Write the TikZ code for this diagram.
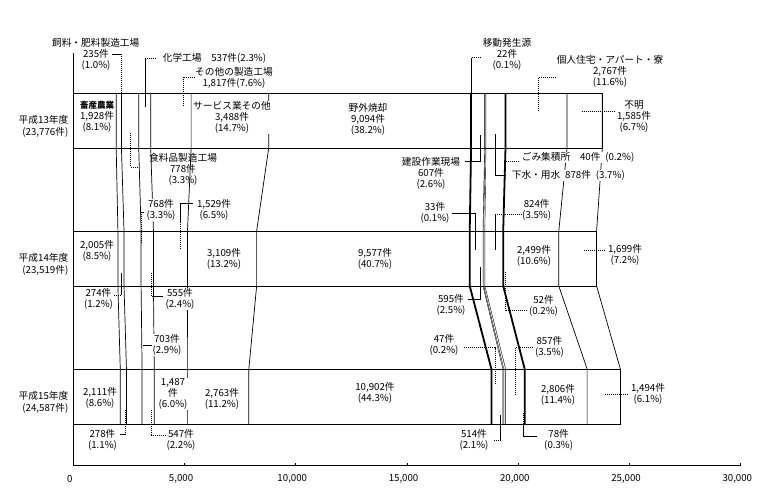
\documentclass[tikz,border=0pt]{standalone}
\usepackage{fontspec}
\setmainfont{Noto Sans CJK JP}
\usepackage{tikz}
\usetikzlibrary{positioning}
\tikzset{
    lbl/.style={font=\fontsize{9.7}{11}\selectfont, align=center, inner sep=0.6pt, fill=white},
    lblclear/.style={lbl, fill=none},
    yearlbl/.style={font=\fontsize{9.7}{12}\selectfont, align=right, anchor=east, inner sep=0pt}
}

\begin{document}
\begin{tikzpicture}[
        x=1pt, y=-1pt,
        % --- LINES ---
        barbox/.style={draw=black, line width=0.9pt},
        segline/.style={draw=black, line width=0.7pt},
        segfine/.style={draw=black, line width=0.4pt},
        segbold/.style={draw=black, line width=1.8pt},
        lead/.style={draw=black, line width=0.7pt},
        leaddot/.style={draw=black, line width=0.8pt, dash pattern=on 1pt off 1pt},
        axisline/.style={draw=black, line width=0.9pt},
        ticklbl/.style={font=\fontsize{9.7}{11}\selectfont, inner sep=0pt}
    ]
    \useasboundingbox[fill=white] (0,0) rectangle (778,499);

    % --- BARS, SERIES LINES, AXIS (x in 1000 cases) ---
    \begin{scope}[x=22.25pt, xshift=73.3pt]
        \foreach \a/\b/\c/\w in {1.928/2.005/2.111/segline, 2.163/2.279/2.389/segline,
                2.941/3.047/3.092/segline, 3.478/3.602/3.639/segline,
                5.295/5.131/5.126/segline, 8.783/8.240/7.889/segline,
                17.877/17.817/18.791/segbold, 18.484/18.412/19.305/segfine,
                18.506/18.445/19.352/segfine, 18.546/18.497/19.430/segfine,
                19.424/19.321/20.287/segbold, 22.191/21.820/23.093/segline,
                23.776/23.519/24.587/segline}
            \draw[\w] (\a,93) -- (\a,148) -- (\b,231) -- (\b,286) -- (\c,369) -- (\c,424);
        \draw[barbox] (0,93) rectangle (23.776,148);
        \draw[barbox] (0,231) rectangle (23.519,286);
        \draw[barbox] (0,369) rectangle (24.587,424);

        \draw[axisline] (0,53) -- (0,465.7) -- (30,465.7);
        \foreach \k in {5,10,...,30}
            \draw[axisline] (\k,465.7) -- (\k,462.5);
        \foreach \k/\t in {0/0, 5/{5,000}, 10/{10,000}, 15/{15,000}, 20/{20,000}, 25/{25,000}, 30/{30,000}}
            \node[ticklbl, xshift=-3.5pt] (t\k) at (\k,479) {\t};
    \end{scope}

    % --- LEADERS ---
    \draw[lead] (112,54) -- (121,54);
    \draw[leaddot] (121,54) -- (121,105);
    \draw[lead] (145,107) -- (145,58.3);
    \draw[leaddot] (145,58.3) -- (156,58.3);
    \draw[leaddot] (195,77) -- (183,77) -- (183,107);
    \draw[lead] (471.7,93) -- (471.7,57.7);
    \draw[leaddot] (471.7,57.7) -- (480,57.7);
    \draw[leaddot] (562,77.7) -- (538.3,77.7) -- (538.3,111);
    \draw[leaddot] (581.7,111.7) -- (616,111.7);
    \draw[leaddot] (130.7,133) -- (130.7,167) -- (138,167);
    \draw[lead] (480,135) -- (480,161.5) -- (465,161.5);
    \draw[lead] (495.5,134) -- (495.5,175.7) -- (506,175.7);
    \draw[leaddot] (506,161) -- (520,161);
    \draw[leaddot] (141.5,243) -- (141.5,212);
    \draw[lead] (141.5,212) -- (144,212);
    \draw[lead] (193,203) -- (180,203) -- (180,222);
    \draw[leaddot] (180,222) -- (180,250);
    \draw[lead] (451.7,213.3) -- (475,213.3) -- (475,250);
    \draw[leaddot] (521.7,214) -- (495.7,214);
    \draw[lead] (495.7,214) -- (495.7,250);
    \draw[leaddot] (584,250.7) -- (605,250.7);
    \draw[lead] (121,273) -- (121,295);
    \draw[leaddot] (121,295) -- (112.7,295);
    \draw[leaddot] (151.7,273) -- (151.7,296);
    \draw[lead] (151.7,296) -- (163,296);
    \draw[lead] (142.7,345) -- (153.5,345);
    \draw[lead] (480,267) -- (480,299) -- (468.3,299);
    \draw[leaddot] (505,272) -- (505,310.7) -- (528.3,310.7);
    \draw[leaddot] (464.3,347.7) -- (495,347.7) -- (495,385);
    \draw[leaddot] (535,347.7) -- (515,347.7) -- (515,395);
    \draw[leaddot] (605,394.3) -- (628.3,394.3);
    \draw[leaddot] (125,410) -- (125,434.5);
    \draw[lead] (125,434.5) -- (120,434.5);
    \draw[leaddot] (151.7,410) -- (151.7,435) -- (165,435);
    \draw[lead] (500.7,415) -- (500.7,440);
    \draw[leaddot] (500.7,440) -- (494,440);
    \draw[leaddot] (523.5,413) -- (523.5,424);
    \draw[lead] (523.5,424) -- (523.5,436) -- (537.3,436);

    % --- YEARS ---
    \node[yearlbl] (y13) at (68.5,126) {平成13年度\\(23,776件)};
    \node[yearlbl] (y14) at (68.5,264) {平成14年度\\(23,519件)};
    \node[yearlbl] (y15) at (68.5,402) {平成15年度\\(24,587件)};

    % --- H13 ---
    \node[lbl] (shiryo) at (95.7,43) {飼料・肥料製造工場};
    \node[lbl] (n235) at (96,59.5) {235件\\(1.0\%)};
    \node[lbl, anchor=west] (kagaku) at (162,58.3) {化学工場\quad 537件(2.3\%)};
    \node[lbl] (sonota) at (234,78.3) {その他の製造工場\\1,817件(7.6\%)};
    \node[lbl] (idou) at (507,54.2) {移動発生源\\22件\\(0.1\%)};
    \node[lbl] (kojin) at (610,71.7) {個人住宅・アパート・寮\\2,767件\\(11.6\%)};
    \node[lbl] (fumei) at (634,116.5) {不明\\1,585件\\(6.7\%)};
    \node[lbl] (chiku) at (97,117) {{\fontsize{8.5}{11}\selectfont\bfseries 畜産農業}\\1,928件\\(8.1\%)};
    \node[lbl] (service) at (232,117.3) {サービス業その他\\3,488件\\(14.7\%)};
    \node[lbl] (yagai) at (368,119.5) {野外焼却\\9,094件\\(38.2\%)};

    % --- H13 -> H14 ---
    \node[lblclear] (shokuryo) at (183,169) {食料品製造工場\\778件\\(3.3\%)};
    \node[lbl] (n768) at (161,210) {768件\\(3.3\%)};
    \node[lbl] (n1529) at (214,210) {1,529件\\(6.5\%)};
    \node[lbl] (kensetsu) at (431,173.3) {建設作業現場\\607件\\(2.6\%)};
    \node[lbl, anchor=west] (gomi) at (521,157.3) {ごみ集積所\quad 40件\enspace(0.2\%)};
    \node[lbl, anchor=west] (gesui) at (511,175.7) {下水・用水\enspace 878件\enspace(3.7\%)};
    \node[lbl] (n33) at (435,213.3) {33件\\(0.1\%)};
    \node[lbl] (n824) at (536.7,210) {824件\\(3.5\%)};

    % --- H14 ---
    \node[lbl] (n1699) at (625,254.7) {1,699件\\(7.2\%)};
    \node[lbl] (n2005) at (97,250.5) {2,005件\\(8.5\%)};
    \node[lbl] (n3109) at (224,258.7) {3,109件\\(13.2\%)};
    \node[lbl] (n9577) at (375,259) {9,577件\\(40.7\%)};
    \node[lbl] (n2499) at (534,255.7) {2,499件\\(10.6\%)};

    % --- H14 -> H15 ---
    \node[lbl] (n274) at (98.5,298.8) {274件\\(1.2\%)};
    \node[lbl] (n555) at (180,299.2) {555件\\(2.4\%)};
    \node[lbl] (n703) at (167,345) {703件\\(2.9\%)};
    \node[lbl] (n595) at (451,304.5) {595件\\(2.5\%)};
    \node[lbl] (n52) at (543.5,306) {52件\\(0.2\%)};
    \node[lbl] (n47) at (444,345) {47件\\(0.2\%)};
    \node[lbl] (n857) at (549.5,346.7) {857件\\(3.5\%)};

    % --- H15 ---
    \node[lbl] (n2111) at (100,398) {2,111件\\(8.6\%)};
    \node[lbl] (n1487) at (173,394) {1,487\\件\\(6.0\%)};
    \node[lbl] (n2763) at (222,398.7) {2,763件\\(11.2\%)};
    \node[lbl] (n10902) at (375,393.3) {10,902件\\(44.3\%)};
    \node[lbl] (n2806) at (558,394.7) {2,806件\\(11.4\%)};
    \node[lbl] (n1494) at (648,393.7) {1,494件\\(6.1\%)};
    \node[lbl] (n278) at (102.5,440) {278件\\(1.1\%)};
    \node[lbl] (n547) at (181,440) {547件\\(2.2\%)};
    \node[lbl] (n514) at (474,439.5) {514件\\(2.1\%)};
    \node[lbl] (n78) at (558.7,439.5) {78件\\(0.3\%)};
\end{tikzpicture}
\end{document}
